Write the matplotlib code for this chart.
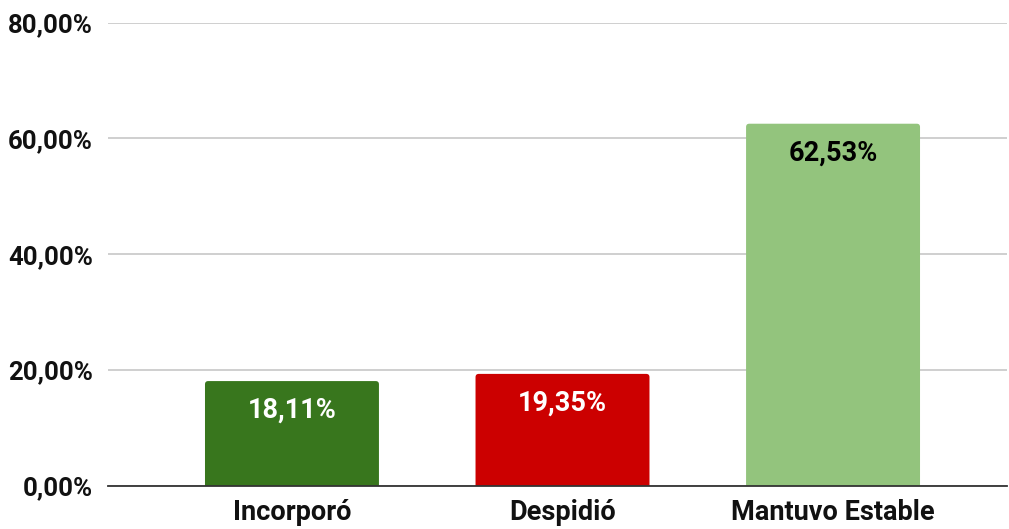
import matplotlib
matplotlib.use("Agg")
import matplotlib.pyplot as plt
from matplotlib.patches import FancyBboxPatch

categories = ["Incorporó", "Despidió", "Mantuvo Estable"]
values = [18.11, 19.35, 62.53]
value_labels = ["18,11%", "19,35%", "62,53%"]
colors = ["#38761d", "#cc0000", "#93c47d"]
label_colors = ["white", "white", "black"]
yticks = [0, 20, 40, 60, 80]
ytick_labels = ["0,00%", "20,00%", "40,00%", "60,00%", "80,00%"]

plt.rcParams['font.family'] = ['Roboto', 'DejaVu Sans']

fig = plt.figure(figsize=(10.09, 5.29), dpi=100)
ax = fig.add_axes([108/1009, 1-486/529, 899/1009, (486-22.5)/529])

x = list(range(len(categories)))
bars = ax.bar(x, values, width=0.643, color=colors, zorder=3)

ax.set_xlim(-0.68, 2.643)
ax.set_ylim(0, 80)

# rounded tops
xpp = 270.5  # px per x unit
ypp = (486-22.5)/80
for b, c in zip(bars, colors):
    bx, by, bw, bh = b.get_x(), b.get_y(), b.get_width(), b.get_height()
    b.set_visible(False)
    p = FancyBboxPatch((bx, by - 2), bw, bh + 2,
                       boxstyle="round,pad=0,rounding_size=0.012",
                       mutation_aspect=xpp/ypp,
                       facecolor=c, edgecolor='none', zorder=3)
    ax.add_patch(p)

for xi, v, lab, lc in zip(x, values, value_labels, label_colors):
    ax.annotate(lab, (xi, v), xytext=(0, -29), textcoords='offset pixels',
                ha='center', va='center', fontsize=19.5, fontweight='bold',
                color=lc, zorder=4)

ax.set_yticks(yticks)
ax.set_yticklabels(ytick_labels, fontsize=18.5, fontweight='bold', color='#111111')
ax.set_xticks(x)
ax.set_xticklabels(categories, fontsize=19.5, fontweight='bold', color='#111111')
ax.tick_params(axis='y', length=0, pad=11)
ax.tick_params(axis='x', length=0, pad=9)

ax.grid(axis='y', color='#cccccc', linewidth=1.3, zorder=0)
for s in ['top', 'right', 'left']:
    ax.spines[s].set_visible(False)
ax.spines['bottom'].set_color('#333333')
ax.spines['bottom'].set_linewidth(1.3)
ax.spines['bottom'].set_zorder(5)

fig.savefig("out.png", dpi=100)
